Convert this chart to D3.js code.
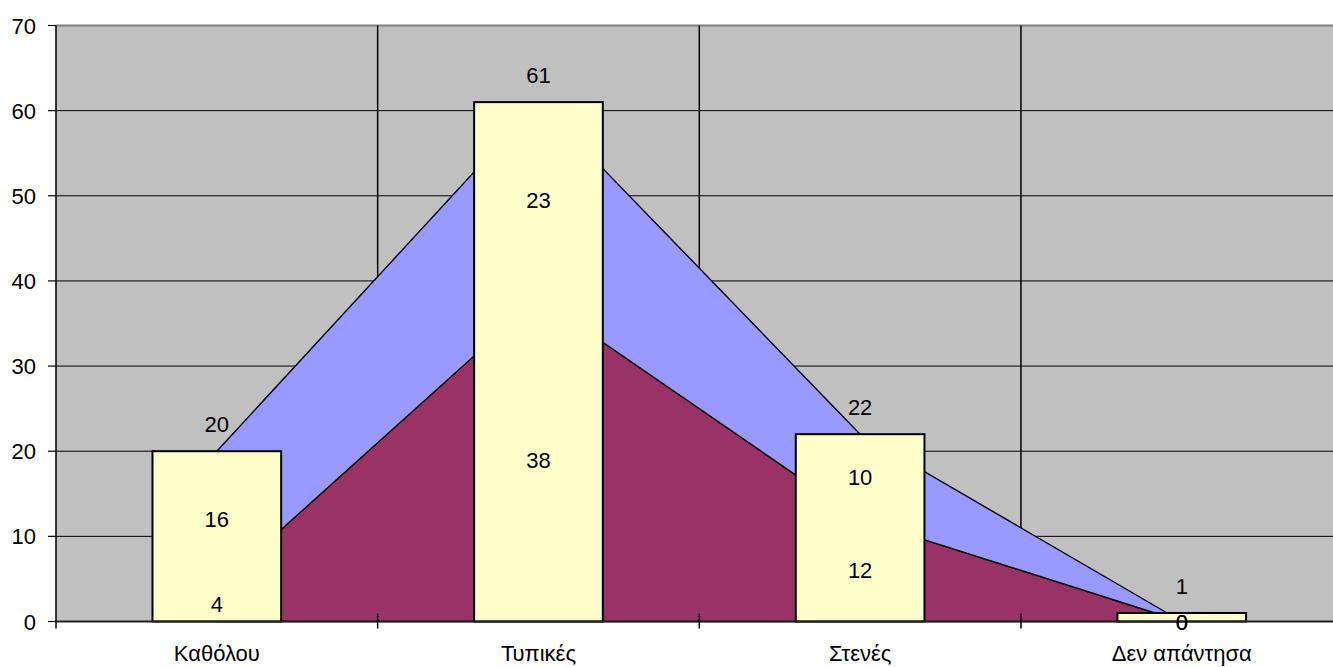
<!DOCTYPE html>
<html>
<head>
<meta charset="utf-8">
<script src="https://cdn.jsdelivr.net/npm/d3@7"></script>
<style>
  body { margin: 0; background: #fff; }
  text { font-family: "Liberation Sans", Arial, sans-serif; font-size: 22px; fill: #000; }
</style>
</head>
<body>
<svg width="1333" height="667"></svg>
<script>
const categories = ["Καθόλου", "Τυπικές", "Στενές", "Δεν απάντησα"];
const lowerSeries = [4, 38, 12, 0];   // maroon area
const upperSeries = [16, 23, 10, 0];  // blue area
const barTotals = [20, 61, 22, 1];    // yellow bars
const yTicks = [0, 10, 20, 30, 40, 50, 60, 70];

const svg = d3.select("svg");
const plotL = 56, plotR = 1342.6, plotT = 25.5, plotB = 621.5;

const x = d3.scaleBand()
  .domain(categories)
  .range([plotL, plotR])
  .padding(0);

const y = d3.scaleLinear()
  .domain([0, 70])
  .range([plotB, plotT]);

const cx = c => x(c) + x.bandwidth() / 2;

// plot background
svg.append("rect")
  .attr("x", plotL).attr("y", plotT)
  .attr("width", plotR - plotL).attr("height", plotB - plotT)
  .attr("fill", "#C0C0C0");

// horizontal grid
svg.append("g").selectAll("line")
  .data(yTicks.filter(d => d > 0 && d < 70))
  .enter().append("line")
  .attr("x1", plotL).attr("x2", plotR)
  .attr("y1", d => y(d)).attr("y2", d => y(d))
  .attr("stroke", "#000").attr("stroke-width", 1);

// top border
svg.append("line")
  .attr("x1", plotL).attr("x2", plotR)
  .attr("y1", plotT).attr("y2", plotT)
  .attr("stroke", "#808080").attr("stroke-width", 2);

// vertical grid at category boundaries
svg.append("g").selectAll("line")
  .data(categories.slice(1))
  .enter().append("line")
  .attr("x1", d => x(d)).attr("x2", d => x(d))
  .attr("y1", plotT).attr("y2", plotB)
  .attr("stroke", "#000").attr("stroke-width", 1.5);

// stacked areas
const rows = categories.map((c, i) => ({ cat: c, a: lowerSeries[i], b: upperSeries[i] }));
const stacked = d3.stack().keys(["a", "b"])(rows);
const areaColors = ["#993366", "#9999FF"];

const area = d3.area()
  .x(d => cx(d.data.cat))
  .y0(d => y(d[0]))
  .y1(d => y(d[1]));

svg.append("g").selectAll("path")
  .data(stacked)
  .enter().append("path")
  .attr("d", area)
  .attr("fill", (d, i) => areaColors[i])
  .attr("stroke", "#000")
  .attr("stroke-width", 1.4)
  .attr("stroke-linejoin", "round");

// bars
const bw = x.bandwidth() * 0.4;
svg.append("g").selectAll("rect")
  .data(categories)
  .enter().append("rect")
  .attr("x", d => cx(d) - bw / 2)
  .attr("y", (d, i) => y(barTotals[i]))
  .attr("width", bw)
  .attr("height", (d, i) => y(0) - y(barTotals[i]))
  .attr("fill", "#FFFFCC")
  .attr("stroke", "#000")
  .attr("stroke-width", 2);

// axes
svg.append("line")
  .attr("x1", plotL).attr("x2", plotR)
  .attr("y1", plotB).attr("y2", plotB)
  .attr("stroke", "#222").attr("stroke-width", 2);
svg.append("line")
  .attr("x1", plotL).attr("x2", plotL)
  .attr("y1", plotT).attr("y2", plotB + 7)
  .attr("stroke", "#000").attr("stroke-width", 1.5);

// y ticks + labels
const yAxis = svg.append("g");
yAxis.selectAll("line")
  .data(yTicks)
  .enter().append("line")
  .attr("x1", plotL - 8).attr("x2", plotL)
  .attr("y1", d => y(d)).attr("y2", d => y(d))
  .attr("stroke", "#000").attr("stroke-width", 1.2);
yAxis.selectAll("text")
  .data(yTicks)
  .enter().append("text")
  .attr("x", 36)
  .attr("y", d => y(d) + 8)
  .attr("text-anchor", "end")
  .text(d => d);

// x ticks at boundaries
svg.append("g").selectAll("line")
  .data(categories.slice(1))
  .enter().append("line")
  .attr("x1", d => x(d)).attr("x2", d => x(d))
  .attr("y1", plotB - 8).attr("y2", plotB + 7)
  .attr("stroke", "#000").attr("stroke-width", 1.5);

// category labels
svg.append("g").selectAll("text")
  .data(categories)
  .enter().append("text")
  .attr("x", d => cx(d))
  .attr("y", 661)
  .attr("text-anchor", "middle")
  .text(d => d);

// data labels
const labels = svg.append("g");
categories.forEach((c, i) => {
  labels.append("text")
    .attr("x", cx(c)).attr("y", y(barTotals[i]) - 27 + 8)
    .attr("text-anchor", "middle").text(barTotals[i]);
  labels.append("text")
    .attr("x", cx(c)).attr("y", y(lowerSeries[i] / 2) + 8)
    .attr("text-anchor", "middle").text(lowerSeries[i]);
  labels.append("text")
    .attr("x", cx(c)).attr("y", y(lowerSeries[i] + upperSeries[i] / 2) + 8)
    .attr("text-anchor", "middle").text(upperSeries[i]);
});
</script>
</body>
</html>
